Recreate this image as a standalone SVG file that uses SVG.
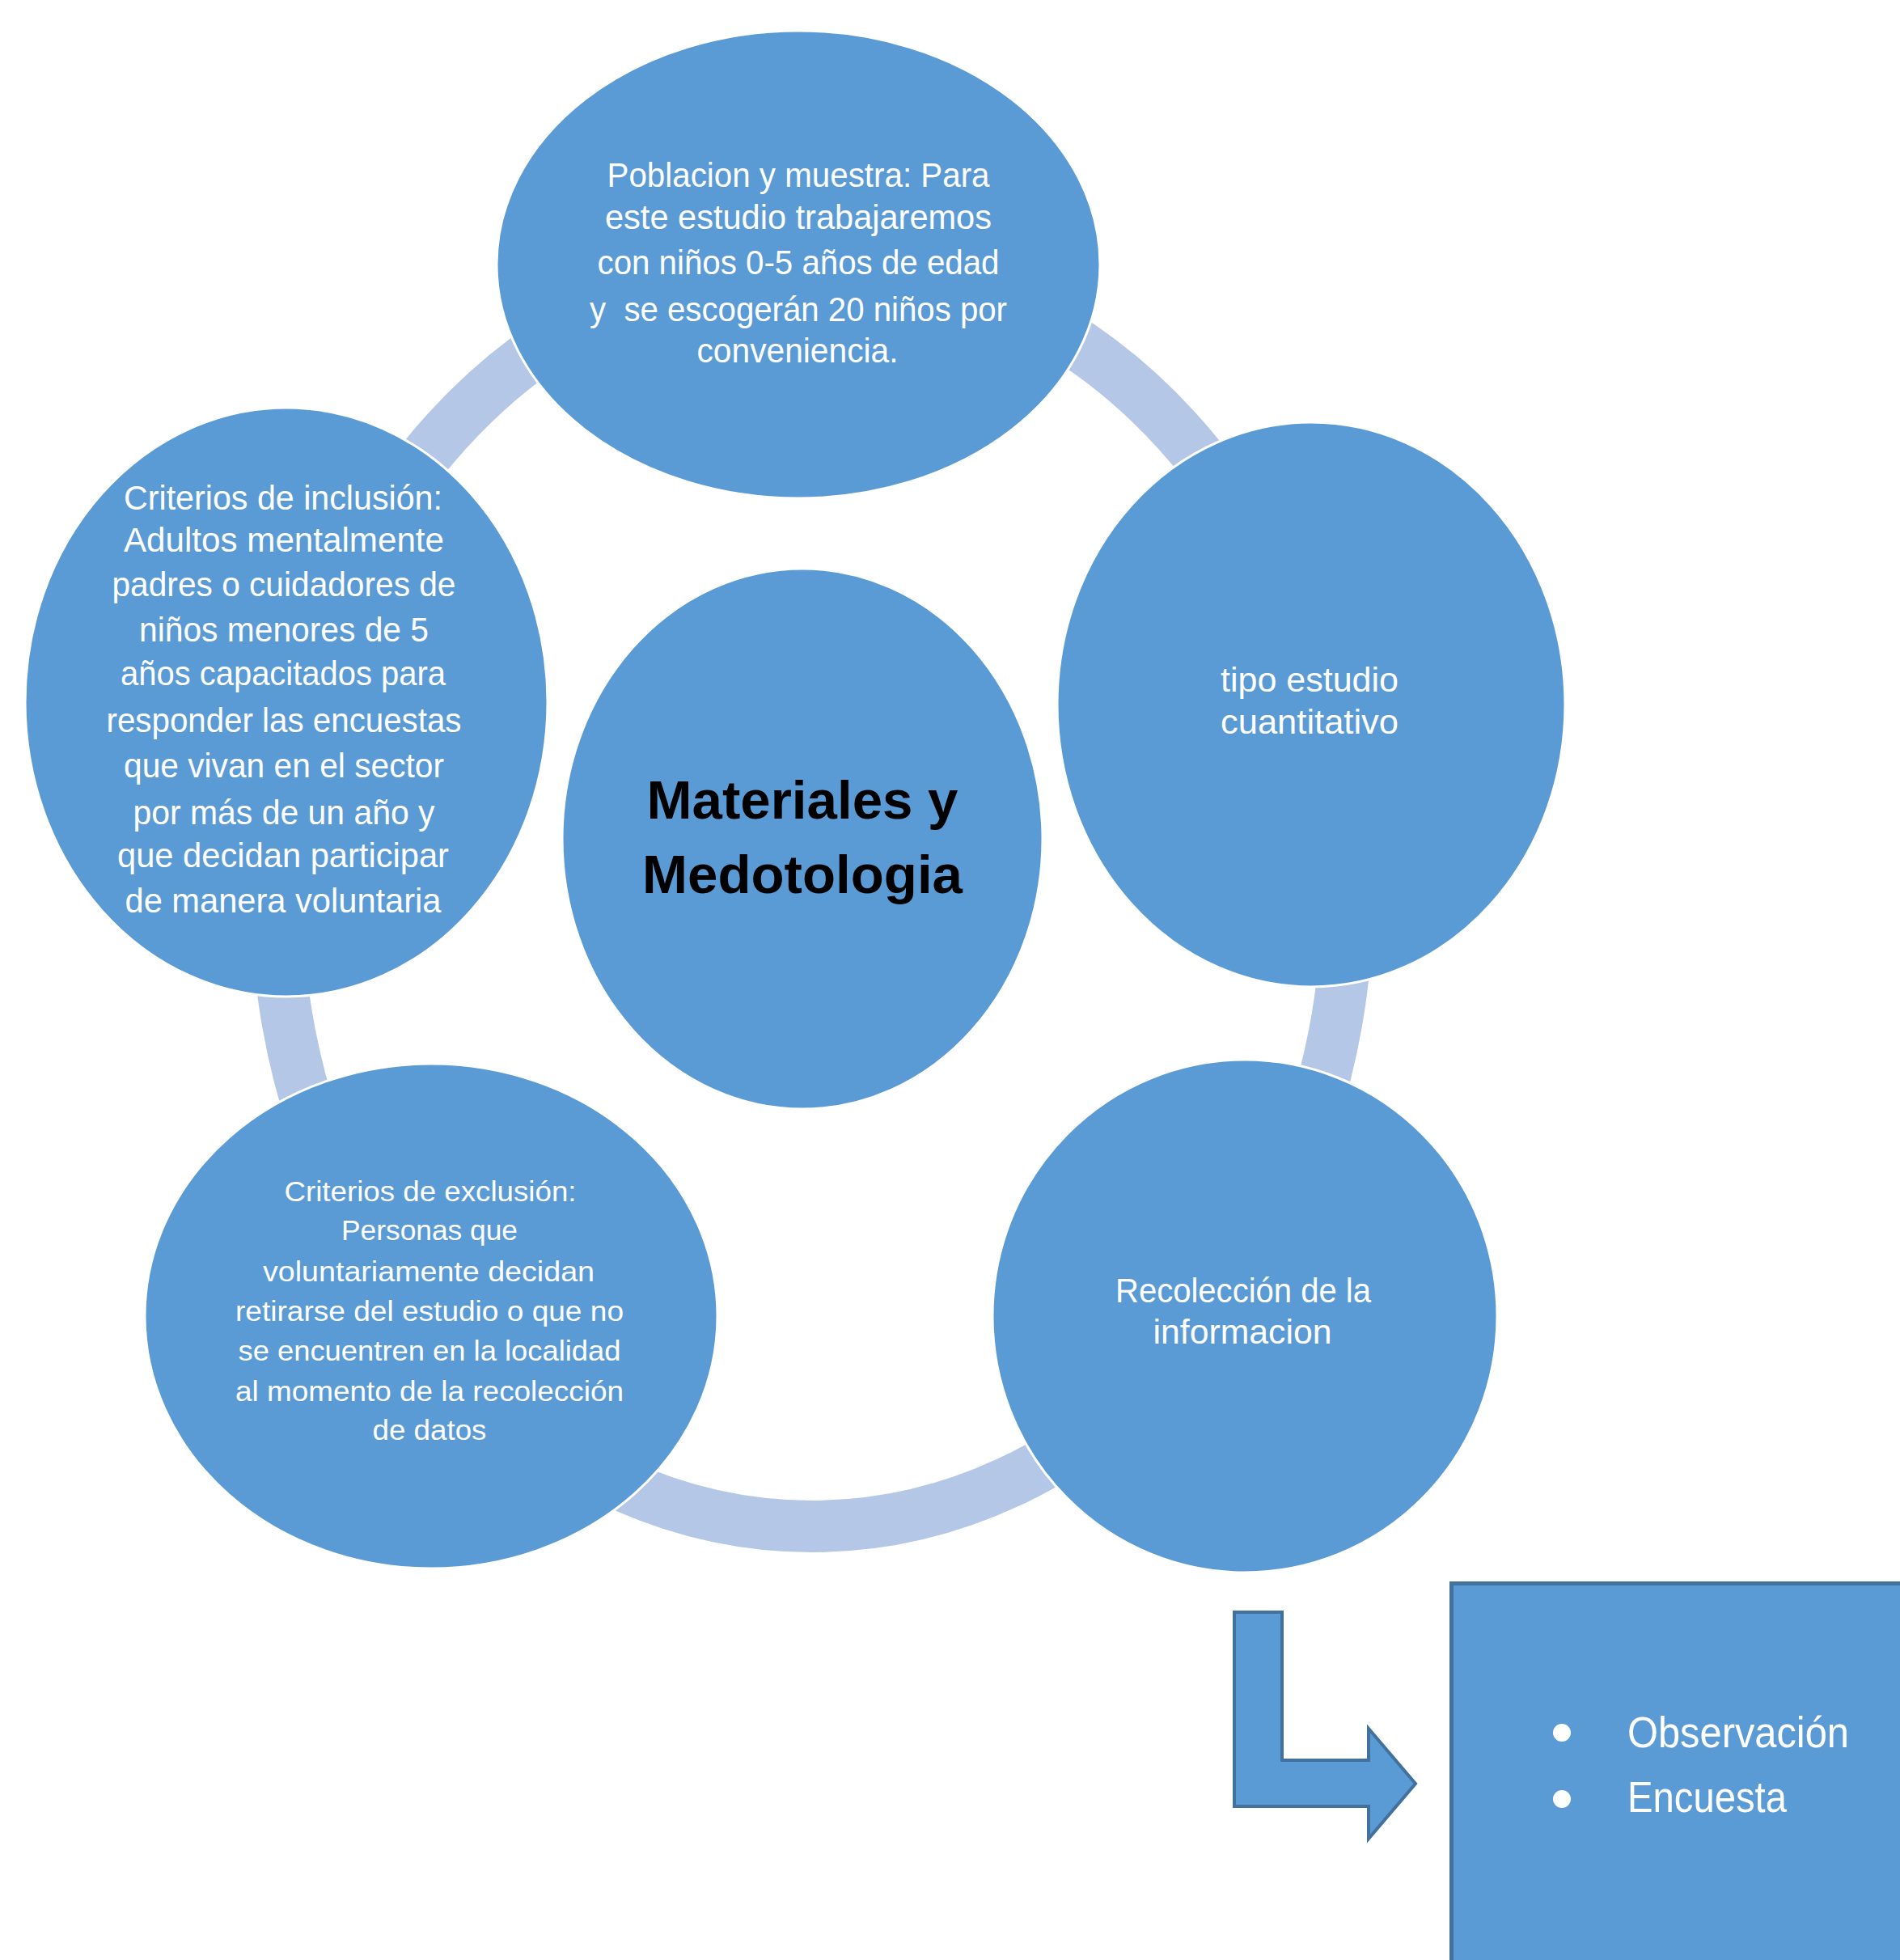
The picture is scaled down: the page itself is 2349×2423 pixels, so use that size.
<svg xmlns="http://www.w3.org/2000/svg" width="2349" height="2423" viewBox="0 0 2349 2423">
<style>
.node{fill:#5B9BD5;stroke:#FFFFFF;stroke-width:3}
.t{font-family:"Liberation Sans",Arial,sans-serif;fill:#FFFFFF;text-anchor:middle}
.t44{font-size:42px}
.t36{font-size:35px}
.title{font-family:"Liberation Sans",Arial,sans-serif;font-weight:bold;font-size:66px;fill:#000000;text-anchor:middle}
.ring{fill:none;stroke:#B4C7E7;stroke-width:64}
.conn{fill:#5B9BD5;stroke:#41719C;stroke-width:4}
.box{fill:#5B9BD5;stroke:#41719C;stroke-width:5}
.bl{font-family:"Liberation Sans",Arial,sans-serif;font-size:54px;fill:#FFFFFF}
</style>
<rect width="2349" height="2423" fill="#FFFFFF"/>
<g id="connectors">
<ellipse id="cycle-ring" class="ring" cx="1004" cy="1105" rx="662" ry="782"/>
<path id="bent-arrow" class="conn" d="M1526,1993 L1585,1993 L1585,2176 L1692,2176 L1692,2137 L1750,2205 L1692,2273 L1692,2233 L1526,2233 Z"/>
</g>
<g id="node-poblacion">
<ellipse class="node" cx="987" cy="327" rx="373" ry="289"/>
<text class="t t44" xml:space="preserve"><tspan x="987" y="231" textLength="473" lengthAdjust="spacingAndGlyphs">Poblacion y muestra: Para</tspan><tspan x="987" y="283" textLength="478" lengthAdjust="spacingAndGlyphs">este estudio trabajaremos</tspan><tspan x="987" y="339" textLength="497" lengthAdjust="spacingAndGlyphs">con niños 0-5 años de edad</tspan><tspan x="987" y="397" textLength="516" lengthAdjust="spacingAndGlyphs">y  se escogerán 20 niños por</tspan><tspan x="986" y="448" textLength="249" lengthAdjust="spacingAndGlyphs">conveniencia.</tspan></text>
</g>
<g id="node-inclusion">
<ellipse class="node" cx="354" cy="868" rx="323" ry="364"/>
<text class="t t44"><tspan x="350" y="630" textLength="394" lengthAdjust="spacingAndGlyphs">Criterios de inclusión:</tspan><tspan x="351" y="682" textLength="396" lengthAdjust="spacingAndGlyphs">Adultos mentalmente</tspan><tspan x="351" y="737" textLength="425" lengthAdjust="spacingAndGlyphs">padres o cuidadores de</tspan><tspan x="351" y="793" textLength="358" lengthAdjust="spacingAndGlyphs">niños menores de 5</tspan><tspan x="350" y="847" textLength="402" lengthAdjust="spacingAndGlyphs">años capacitados para</tspan><tspan x="351" y="905" textLength="439" lengthAdjust="spacingAndGlyphs">responder las encuestas</tspan><tspan x="351" y="961" textLength="396" lengthAdjust="spacingAndGlyphs">que vivan en el sector</tspan><tspan x="351" y="1019" textLength="373" lengthAdjust="spacingAndGlyphs">por más de un año y</tspan><tspan x="350" y="1072" textLength="410" lengthAdjust="spacingAndGlyphs">que decidan participar</tspan><tspan x="350" y="1128" textLength="391" lengthAdjust="spacingAndGlyphs">de manera voluntaria</tspan></text>
</g>
<g id="node-center">
<ellipse class="node" cx="992" cy="1037" rx="297" ry="334"/>
<text class="title"><tspan x="992" y="1012" textLength="385" lengthAdjust="spacingAndGlyphs">Materiales y</tspan><tspan x="992" y="1104" textLength="396" lengthAdjust="spacingAndGlyphs">Medotologia</tspan></text>
</g>
<g id="node-tipo">
<ellipse class="node" cx="1621" cy="871" rx="314" ry="349"/>
<text class="t t44"><tspan x="1619" y="855" textLength="220" lengthAdjust="spacingAndGlyphs">tipo estudio</tspan><tspan x="1619" y="907" textLength="220" lengthAdjust="spacingAndGlyphs">cuantitativo</tspan></text>
</g>
<g id="node-exclusion">
<ellipse class="node" cx="533" cy="1627" rx="354" ry="312"/>
<text class="t t36"><tspan x="532" y="1485" textLength="361" lengthAdjust="spacingAndGlyphs">Criterios de exclusión:</tspan><tspan x="531" y="1533" textLength="218" lengthAdjust="spacingAndGlyphs">Personas que</tspan><tspan x="530" y="1584" textLength="410" lengthAdjust="spacingAndGlyphs">voluntariamente decidan</tspan><tspan x="531" y="1633" textLength="480" lengthAdjust="spacingAndGlyphs">retirarse del estudio o que no</tspan><tspan x="531" y="1682" textLength="473" lengthAdjust="spacingAndGlyphs">se encuentren en la localidad</tspan><tspan x="531" y="1732" textLength="480" lengthAdjust="spacingAndGlyphs">al momento de la recolección</tspan><tspan x="531" y="1780" textLength="141" lengthAdjust="spacingAndGlyphs">de datos</tspan></text>
</g>
<g id="node-recoleccion">
<ellipse class="node" cx="1539" cy="1627" rx="312" ry="317"/>
<text class="t t44"><tspan x="1537" y="1610" textLength="316" lengthAdjust="spacingAndGlyphs">Recolección de la</tspan><tspan x="1536" y="1661" textLength="221" lengthAdjust="spacingAndGlyphs">informacion</tspan></text>
</g>
<g id="node-metodos">
<rect class="box" x="1794.5" y="1957.5" width="600" height="520"/>
<circle cx="1931" cy="2142" r="11" fill="#FFFFFF"/>
<circle cx="1931" cy="2224" r="11" fill="#FFFFFF"/>
<text class="bl"><tspan x="2012" y="2160" textLength="274" lengthAdjust="spacingAndGlyphs">Observación</tspan><tspan x="2012" y="2240" textLength="197" lengthAdjust="spacingAndGlyphs">Encuesta</tspan></text>
</g>
</svg>
